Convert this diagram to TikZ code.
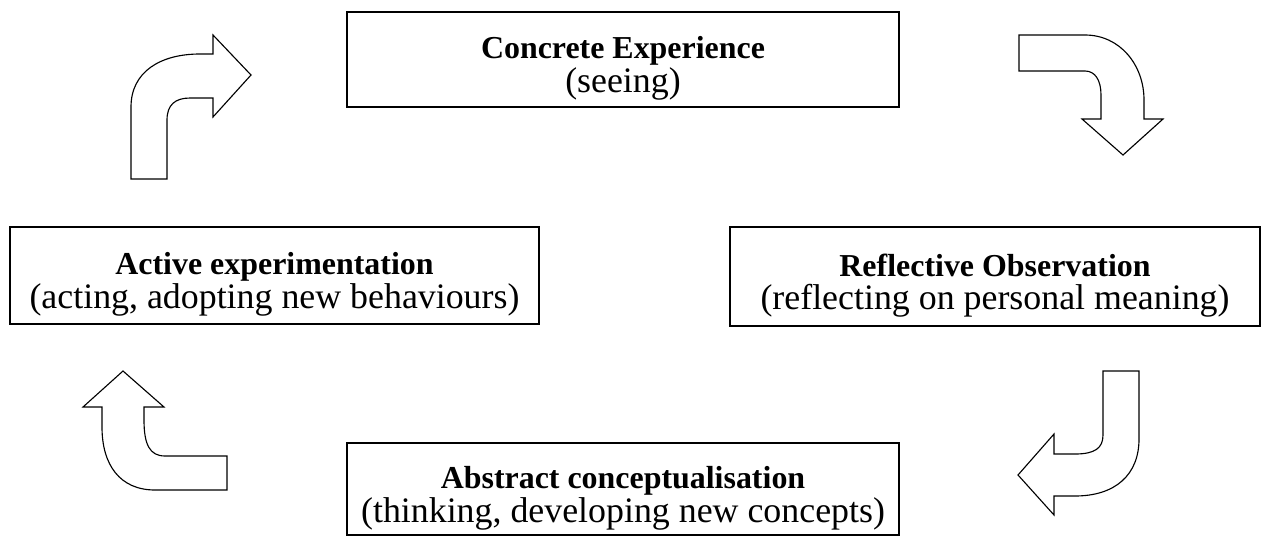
\documentclass[tikz,border=0pt]{standalone}
\usepackage{fontspec}
\setmainfont{Liberation Serif}
\usepackage{tikz}
\usetikzlibrary{positioning}
\newcommand{\stagehead}[1]{{\fontsize{22.7}{24}\selectfont\bfseries #1}}
\newcommand{\stagesub}[1]{{\fontsize{25.5}{24}\selectfont #1}}
\tikzset{
  stage/.style={draw=black,line width=1.1pt,fill=white,inner sep=0pt},
  stagetext/.style={inner sep=0pt,align=center,font=\fontsize{22.7}{24}\selectfont},
  blockarrow/.style={draw=black,line width=0.8pt,fill=white,line join=miter},
}

\begin{document}
\begin{tikzpicture}[x=0.025cm,y=-0.025cm]
  \useasboundingbox (0,0) rectangle (1267,540);

  % the four stages of the cycle
  \node[stage,minimum width=552*0.025cm,minimum height=95*0.025cm] (concrete) at (623,59.5) {};
  \node[stage,minimum width=530*0.025cm,minimum height=99*0.025cm] (reflect) at (995,276.5) {};
  \node[stage,minimum width=552*0.025cm,minimum height=92*0.025cm] (abstract) at (623,489) {};
  \node[stage,minimum width=529*0.025cm,minimum height=97*0.025cm] (active) at (274.5,275.5) {};

  \node[stagetext] (concretetxt) at ([yshift=-9*0.025cm]concrete.center) {\stagehead{Concrete Experience}\\\stagesub{(seeing)}};
  \node[stagetext] (reflecttxt) at ([yshift=-9*0.025cm]reflect.center) {\stagehead{Reflective Observation}\\\stagesub{(reflecting on personal meaning)}};
  \node[stagetext] (abstracttxt) at ([yshift=-9*0.025cm]abstract.center) {\stagehead{Abstract conceptualisation}\\\stagesub{(thinking, developing new concepts)}};
  \node[stagetext] (activetxt) at ([yshift=-9*0.025cm]active.center) {\stagehead{Active experimentation}\\\stagesub{(acting, adopting new behaviours)}};

  % bent block arrows between the stages
  \draw[blockarrow] (131,179) -- (131,107) .. controls (131,72) and (160,54) .. (200,54) -- (213,54) -- (213,35)
    -- (251,75) -- (213,117) -- (213,98) -- (190,98) .. controls (175,98) and (167,105) .. (167,120) -- (167,179) -- cycle;
  \draw[blockarrow] (1019,35) -- (1085,35) .. controls (1120,35) and (1144,65) .. (1144,100) -- (1144,119) -- (1163,119)
    -- (1123,155) -- (1082,119) -- (1101,119) -- (1101,95) .. controls (1101,80) and (1095,71) .. (1085,71) -- (1019,71) -- cycle;
  \draw[blockarrow] (1103,371) -- (1139,371) -- (1139,439) .. controls (1139,475) and (1115,496) .. (1075,496) -- (1054,496) -- (1054,515)
    -- (1018,475) -- (1054,434) -- (1054,454) -- (1075,454) .. controls (1095,454) and (1103,448) .. (1103,435) -- cycle;
  \draw[blockarrow] (123,371) -- (164,407) -- (144,407) -- (144,420) .. controls (144,445) and (150,456) .. (165,456) -- (227,456)
    -- (227,490) -- (155,490) .. controls (120,490) and (102,465) .. (102,427) -- (102,407) -- (83,407) -- cycle;
\end{tikzpicture}
\end{document}
